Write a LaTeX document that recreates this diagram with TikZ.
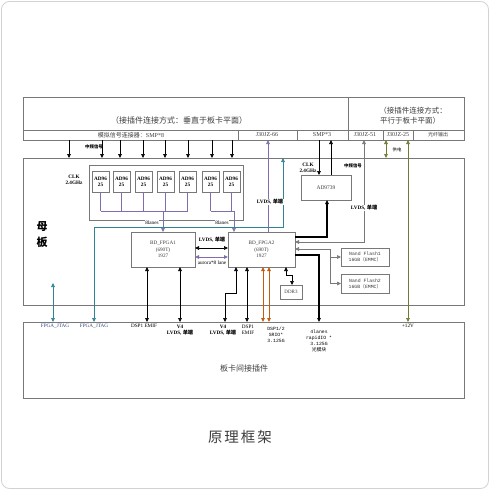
\documentclass[tikz,border=0pt]{standalone}
\usepackage{fontspec}
\setmainfont{Liberation Serif}
\setmonofont{Liberation Mono}
\newfontfamily\cjk{Noto Sans CJK SC}
\usetikzlibrary{arrows.meta}
\definecolor{boxc}{RGB}{120,120,120}
\definecolor{purp}{RGB}{128,110,172}
\definecolor{tealc}{RGB}{47,132,146}
\definecolor{orangec}{RGB}{197,90,17}
\definecolor{olivec}{RGB}{110,123,50}
\definecolor{jtagc}{RGB}{50,70,130}
\definecolor{txtc}{RGB}{60,60,60}
\tikzset{
  box/.style={draw=boxc, line width=0.7pt, inner sep=0pt, outer sep=0pt, anchor=north west},
  chip/.style={box, minimum width=17, minimum height=21, font=\fontsize{5.2}{5.8}\selectfont\bfseries, align=center},
  tiny/.style={inner sep=0pt, font=\fontsize{5.2}{6.2}\selectfont, align=center},
  tinyb/.style={tiny, font=\fontsize{5.2}{6.2}\selectfont\bfseries},
  tinym/.style={tiny, font=\fontsize{4.8}{6.2}\selectfont\ttfamily},
  lab/.style={inner sep=0pt, font=\fontsize{6}{7}\selectfont, align=center, text=txtc},
  conn/.style={line width=0.6pt, draw=black},
  arr/.style={conn, -{Triangle[length=4pt,width=3.6pt]}},
  darr/.style={conn, {Triangle[length=4pt,width=3.6pt]}-{Triangle[length=4pt,width=3.6pt]}},
  rarr/.style={conn, {Triangle[length=4pt,width=3.6pt]}-},
}
\begin{document}
\begin{tikzpicture}[x=1pt,y=-1pt]
\useasboundingbox (0,0) rectangle (490,490);
\draw[rounded corners=8pt, draw=gray!35, line width=0.8pt] (1.5,1.5) rectangle (488.5,488.5);

% x positions
\foreach \x in {53,69,94,102,120,143,147,163,165,180,188,212,225,232,234,236,247,263,269,268,283,286,292,319,327,330,331,364,386,408}
  {\coordinate (X\x) at (\x,0);}
\coordinate (H1) at (0,211);
\coordinate (H2) at (0,227);

% main boxes
\node[box, minimum width=441, minimum height=43] (top) at (23,97) {};
\node[box, minimum width=441, minimum height=147, line width=1pt] (mb) at (23,158) {};
\node[box, minimum width=441, minimum height=76] (bus) at (23,322) {};
\draw[draw=boxc, line width=0.7pt] (23,130) -- (464,130);
\draw[draw=boxc, line width=0.7pt] (348,97) -- (348,140);
\foreach \x in {238,297,383,413} \draw[draw=boxc, line width=0.7pt] (\x,130) -- (\x,140);

\node[lab, font=\fontsize{8}{9}\selectfont\cjk] (t1) at (179,120) {（接插件连接方式：垂直于板卡平面）};
\node[lab, font=\fontsize{7.5}{9}\selectfont\cjk] (t2) at (413,111) {（接插件连接方式：};
\node[lab, font=\fontsize{7.5}{9}\selectfont\cjk] (t3) at (410,121) {平行于板卡平面）};

\node[lab] (r1) at (131,135) {{\cjk 模拟信号连接器：}SMP*8};
\node[lab] (r2) at (267,135) {J30JZ-66};
\node[lab] (r3) at (322,135) {SMP*3};
\node[lab] (r4) at (365,135) {J30JZ-51};
\node[lab] (r5) at (398,135) {J30JZ-25};
\node[lab, font=\fontsize{5}{6}\selectfont\cjk] (r6) at (438,135) {光纤输出};

% motherboard label
\node[inner sep=0pt, font=\fontsize{11}{12}\selectfont\cjk\bfseries] (mu) at (42,227) {母};
\node[inner sep=0pt, font=\fontsize{11}{12}\selectfont\cjk\bfseries] (ban) at (42,242) {板};

% SMP*8 arrows
\foreach \x in {69,102,120,143,165,188,212,232}
  \draw[arr] (top.south -| X\x) -- (mb.north -| X\x);
\node[tinyb, font=\fontsize{4.4}{5}\selectfont\cjk\bfseries] (zp1) at (94,147) {中频信号};

% AD9625 group
\node[box, minimum width=154, minimum height=55] (adg) at (89,165) {};
\node[chip] (c1) at (92,171) {AD96\\25};
\node[chip] (c2) at (113,171) {AD96\\25};
\node[chip] (c3) at (135,171) {AD96\\25};
\node[chip] (c4) at (157,171) {AD96\\25};
\node[chip] (c5) at (179,171) {AD96\\25};
\node[chip] (c6) at (202,171) {AD96\\25};
\node[chip] (c7) at (223,171) {AD96\\25};
\node[tinyb] (clk1) at (74,180) {CLK\\2.4GHz};

% FPGAs
\node[box, minimum width=64, minimum height=35, font=\fontsize{5.2}{6.6}\selectfont, align=center, text=txtc] (f1) at (131,232) {BD\_FPGA1\\(690T)\\1927};
\node[box, minimum width=67, minimum height=35, font=\fontsize{5.2}{6.6}\selectfont, align=center, text=txtc] (f2) at (228,232) {BD\_FPGA2\\(690T)\\1927};

% purple lanes from ADCs
\foreach \c in {c1,c2,c3,c4,c5,c6,c7}
  \draw[conn, draw=purp] (\c.south) -- (\c.south |- H1);
\draw[conn, draw=purp] (c1.south |- H1) -- (c5.south |- H1);
\draw[arr, draw=purp] (f1.north |- H1) -- (f1.north);
\draw[arr, draw=purp] (c6.south |- H1) -- (X234 |- H1) -- (f2.north -| X234);

% teal JTAG
\draw[arr, draw=tealc] (X94 |- H2) -- (bus.north -| X94);
\draw[arr, draw=tealc] (X94 |- H2) -- (X283 |- H2) -- (mb.north -| X283);
\draw[darr, draw=tealc] (53,283) -- (bus.north -| X53);
\node[tiny, text=jtagc] (jt1) at (55,326) {FPGA\_JTAG};
\node[tiny, text=jtagc] (jt2) at (94,326) {FPGA\_JTAG};

\node[tiny, fill=white, inner sep=0.3pt] (sl1) at (152,222.5) {8lanes};
\node[tiny, fill=white, inner sep=0.3pt] (sl2) at (222,222.5) {8lanes};

% purple LVDS up to J30JZ-66
\draw[rarr, draw=purp] (top.south -| X268) -- (f2.north -| X268);
\node[tinyb, fill=white, inner sep=0.5pt] (lv1) at (270,202) {LVDS, {\cjk 单端}};

% between FPGAs
\draw[darr] (f1.east |- 0,248) -- (f2.west |- 0,248);
\node[tinyb] (lv2) at (212,240) {LVDS, {\cjk 单端}};
\draw[darr, draw=purp, line width=0.9pt] (f1.east |- 0,257) -- (f2.west |- 0,257);
\node[tiny] (aur) at (212,263) {aurora*8 lane};

% below FPGA1
\draw[darr] (f1.south -| X147) -- (bus.north -| X147);
\draw[darr] (f1.south -| X180) -- (bus.north -| X180);
\node[tiny] (d1) at (144,326) {DSP1 EMIF};
\node[tinyb] (v41) at (180,330) {V4\\LVDS, {\cjk 单端}};

% below FPGA2
\draw[darr] (f2.south -| X236) -- (236,293) -- (225,293) -- (bus.north -| X225);
\draw[darr] (f2.south -| X247) -- (bus.north -| X247);
\draw[darr, draw=orangec, line width=1pt] (f2.south -| X263) -- (bus.north -| X263);
\draw[darr, draw=orangec, line width=1pt] (f2.south -| X269) -- (bus.north -| X269);
\node[tinyb] (v42) at (223,330) {V4\\LVDS, {\cjk 单端}};
\node[tiny] (d2) at (248,330) {DSP1\\EMIF};
\node[tinym] (d3) at (276,335) {DSP1/2\\SRIO*\\3.125G};

% DDR3
\node[box, minimum width=22, minimum height=14, font=\fontsize{5}{6}\selectfont, text=txtc] (ddr) at (280,285) {DDR3};
\draw[darr] (f2.south -| X286) -- (286,275) -- (292,275) -- (ddr.north -| X292);

% AD9739
\node[box, minimum width=50, minimum height=25, font=\fontsize{5.5}{6.5}\selectfont, text=txtc] (dac) at (301,175) {AD9739};
\node[tinyb] (clk2) at (308,167.5) {CLK\\2.4GHz};
\draw[arr] (top.south -| X319) -- (dac.north -| X319);
\draw[rarr] (top.south -| X331) -- (dac.north -| X331);
\node[tinyb, font=\fontsize{4.4}{5}\selectfont\cjk\bfseries] (zp2) at (353,166) {中频信号};
\draw[arr, line width=1.2pt] (f2.east |- 0,237) -- (327,237) -- (dac.south -| X327);

% LVDS to J30JZ-51
\draw[darr, draw=boxc] (top.south -| X364) -- (364,242) -- (f2.east |- 0,242);
\node[tinyb, fill=white, inner sep=0.5pt] (lv3) at (364,208) {LVDS, {\cjk 单端}};

% Nand flashes
\node[box, minimum width=48, minimum height=18, font=\fontsize{4.8}{6}\selectfont\ttfamily, align=center, text=txtc] (n1) at (341,248) {Nand Flash1\\16GB{\cjk （}EMMC{\cjk ）}};
\node[box, minimum width=48, minimum height=19, font=\fontsize{4.8}{6}\selectfont\ttfamily, align=center, text=txtc] (n2) at (341,274) {Nand Flash2\\16GB{\cjk （}EMMC{\cjk ）}};
\draw[rarr, draw=boxc] (f2.east |- 0,249) -- (330,249) -- (330,283.5);
\draw[arr, draw=boxc] (330,257) -- (n1.west |- 0,257);
\draw[arr, draw=boxc] (330,283.5) -- (n2.west |- 0,283.5);

% 4lanes rapidIO
\draw[arr, line width=1.2pt] (f2.east |- 0,255) -- (319,255) -- (bus.north -| X319);
\node[tinym] (rio) at (319,341) {4lanes\\rapidIO *\\3.125G\\{\cjk 光模块}};

% power
\draw[darr, draw=olivec] (top.south -| X386) -- (mb.north -| X386);
\node[tiny, font=\fontsize{4.4}{5}\selectfont\cjk] (gd) at (397,150) {供电};
\draw[darr, draw=olivec] (top.south -| X408) -- (bus.north -| X408);
\node[tiny] (p12) at (408,326) {+12V};

% bus label and title
\node[lab, font=\fontsize{8}{9}\selectfont\cjk] (busl) at (244,368) {板卡间接插件};
\node[inner sep=0pt, font=\fontsize{14.5}{16}\selectfont\cjk, text=txtc] (title) at (240,437) {原\hspace{2pt}理\hspace{2pt}框\hspace{2pt}架};
\end{tikzpicture}
\end{document}
